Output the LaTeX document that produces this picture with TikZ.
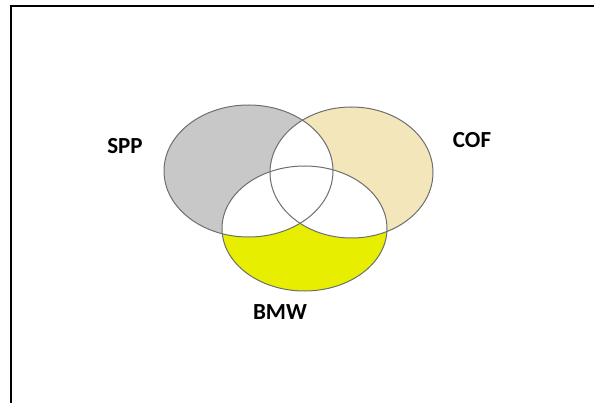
\documentclass[tikz,border=0pt]{standalone}
\usepackage{fontspec}
\newfontfamily\labelfont{Carlito}
\definecolor{sppgray}{HTML}{C8C8C8}
\definecolor{cofbeige}{HTML}{F3E6BB}
\definecolor{bmwyellow}{HTML}{E8EE00}
\definecolor{edgegray}{HTML}{6E6E6E}
\tikzset{
  setedge/.style={draw=edgegray, line width=1pt},
  setlabel/.style={font=\labelfont\bfseries\fontsize{23}{26}\selectfont, text=black, inner sep=0pt},
  frameline/.style={draw=black, line width=2pt}
}
\begin{document}
\begin{tikzpicture}[x=1pt,y=-1pt]
\useasboundingbox (0,0) rectangle (594,403);
\def\spp{(248.5,171) ellipse [x radius=84.5, y radius=66]}
\def\cof{(351.5,172.5) ellipse [x radius=81.5, y radius=65.5]}
\def\bmw{(304.5,228.5) ellipse [x radius=82.5, y radius=62.5]}
% frame
\coordinate (fa) at (11,403);
\coordinate (fb) at (11,6.5);
\coordinate (fc) at (594,6.5);
\draw[frameline] (fa) -- (fb) -- (fc);
% fills
\fill[sppgray] \spp;
\fill[cofbeige] \cof;
\fill[bmwyellow] \bmw;
\begin{scope}
  \clip \spp;
  \fill[white] \cof;
  \fill[white] \bmw;
\end{scope}
\begin{scope}
  \clip \cof;
  \fill[white] \bmw;
\end{scope}
% outlines
\draw[setedge] \spp;
\draw[setedge] \cof;
\draw[setedge] \bmw;
% labels
\node[setlabel] (spp) at (125,146) {SPP};
\node[setlabel] (cof) at (472,140) {COF};
\node[setlabel] (bmw) at (280,312) {BMW};
\end{tikzpicture}
\end{document}
